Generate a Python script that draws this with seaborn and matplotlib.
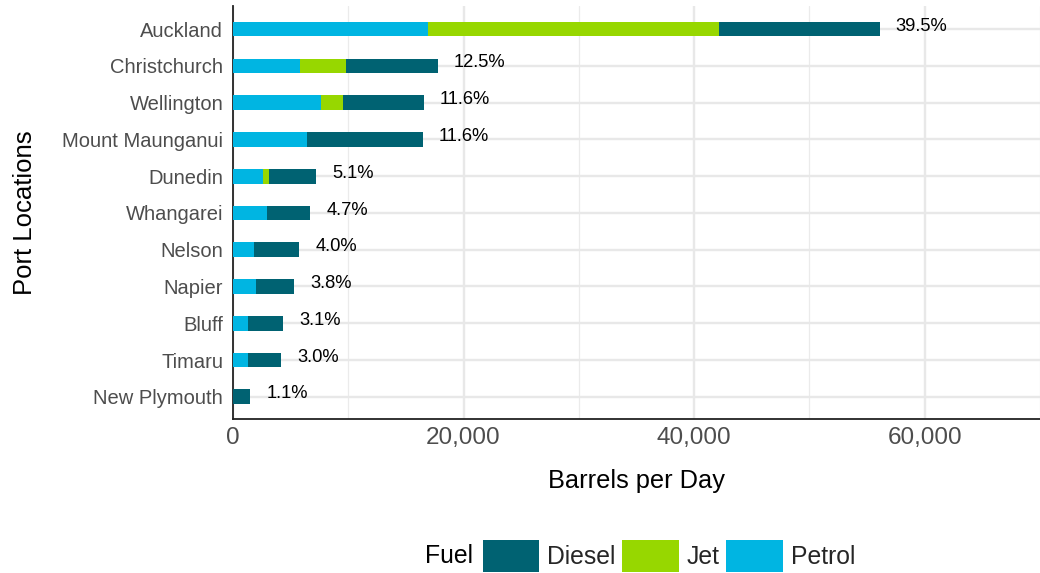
import matplotlib
matplotlib.use("Agg")
import matplotlib.pyplot as plt
from matplotlib.ticker import MultipleLocator, FuncFormatter
from matplotlib.patches import Patch
import numpy as np
import pandas as pd
import seaborn as sns

# Data (barrels per day)
ports = ["Auckland", "Christchurch", "Wellington", "Mount Maunganui", "Dunedin",
         "Whangarei", "Nelson", "Napier", "Bluff", "Timaru", "New Plymouth"]
petrol = [16880, 5830, 7645, 6435, 2635, 2980, 1860, 2030, 1340, 1340, 0]
jet = [25320, 3975, 1900, 0, 520, 0, 0, 0, 0, 0, 0]
diesel = [13880, 7945, 7000, 10020, 4060, 3715, 3885, 3283, 3010, 2850, 1512]
pct_labels = ["39.5%", "12.5%", "11.6%", "11.6%", "5.1%", "4.7%", "4.0%",
              "3.8%", "3.1%", "3.0%", "1.1%"]

fuel_colors = {"Diesel": "#006272", "Jet": "#97D700", "Petrol": "#00B5E2"}

df = pd.DataFrame({"port": ports, "Petrol": petrol, "Jet": jet, "Diesel": diesel})
df["petrol_jet"] = df["Petrol"] + df["Jet"]
df["total"] = df["petrol_jet"] + df["Diesel"]

sns.set_style("white")
plt.rcParams["font.family"] = ["Liberation Sans", "DejaVu Sans"]

fig = plt.figure(figsize=(10.4, 5.73), dpi=100)
ax = fig.add_axes([0.224, 0.269, 0.776, 0.72])

# stacked bars by layering cumulative totals
sns.barplot(data=df, x="total", y="port", orient="h", color=fuel_colors["Diesel"],
            width=0.4, linewidth=0, saturation=1, errorbar=None, ax=ax, zorder=3)
sns.barplot(data=df, x="petrol_jet", y="port", orient="h", color=fuel_colors["Jet"],
            width=0.4, linewidth=0, saturation=1, errorbar=None, ax=ax, zorder=3)
sns.barplot(data=df, x="Petrol", y="port", orient="h", color=fuel_colors["Petrol"],
            width=0.4, linewidth=0, saturation=1, errorbar=None, ax=ax, zorder=3)

# percentage labels
for i, (tot, lab) in enumerate(zip(df["total"], pct_labels)):
    ax.text(tot + 1400, i - 0.08, lab, ha="left", va="center", fontsize=13.2,
            color="black", zorder=4)

ax.set_xlim(0, 70000)
ax.set_ylim(len(ports) - 0.4, -0.62)
ax.xaxis.set_major_locator(MultipleLocator(20000))
ax.xaxis.set_minor_locator(MultipleLocator(10000))
ax.xaxis.set_major_formatter(FuncFormatter(lambda v, p: f"{v:,.0f}"))

ax.grid(which="major", axis="both", color="#E8E8E8", linewidth=1.7, zorder=0)
ax.grid(which="minor", axis="x", color="#EBEBEB", linewidth=0.9, zorder=0)
ax.set_axisbelow(True)

for s in ["top", "right"]:
    ax.spines[s].set_visible(False)
for s in ["left", "bottom"]:
    ax.spines[s].set_color("#222222")
    ax.spines[s].set_linewidth(1.3)

ax.tick_params(axis="y", which="major", length=4, width=1.2, color="#333333",
               labelsize=14.5, labelcolor="#4D4D4D", pad=3)
ax.tick_params(axis="x", which="major", length=4, width=1.2, color="#333333",
               labelsize=17.5, labelcolor="#4D4D4D", pad=2)
ax.tick_params(axis="x", which="minor", length=0)

ax.set_xlabel("Barrels per Day", fontsize=18.3, color="black", labelpad=14)
ax.set_ylabel("Port Locations", fontsize=18.5, color="black", labelpad=18)

# legend at the bottom with the title on the left
handles = [Patch(facecolor=fuel_colors[k], edgecolor="none") for k in ["Diesel", "Jet", "Petrol"]]
fig.legend(handles, ["Diesel", "Jet", "Petrol"], loc="center", ncol=3,
           bbox_to_anchor=(0.643, 0.029), frameon=False, fontsize=17.8,
           handlelength=2.3, handleheight=1.6, handletextpad=0.3,
           columnspacing=0.28, borderpad=0, borderaxespad=0)
fig.text(0.409, 0.029, "Fuel", ha="left", va="center", fontsize=17.8, color="black")

fig.savefig("out.png", dpi=100)
